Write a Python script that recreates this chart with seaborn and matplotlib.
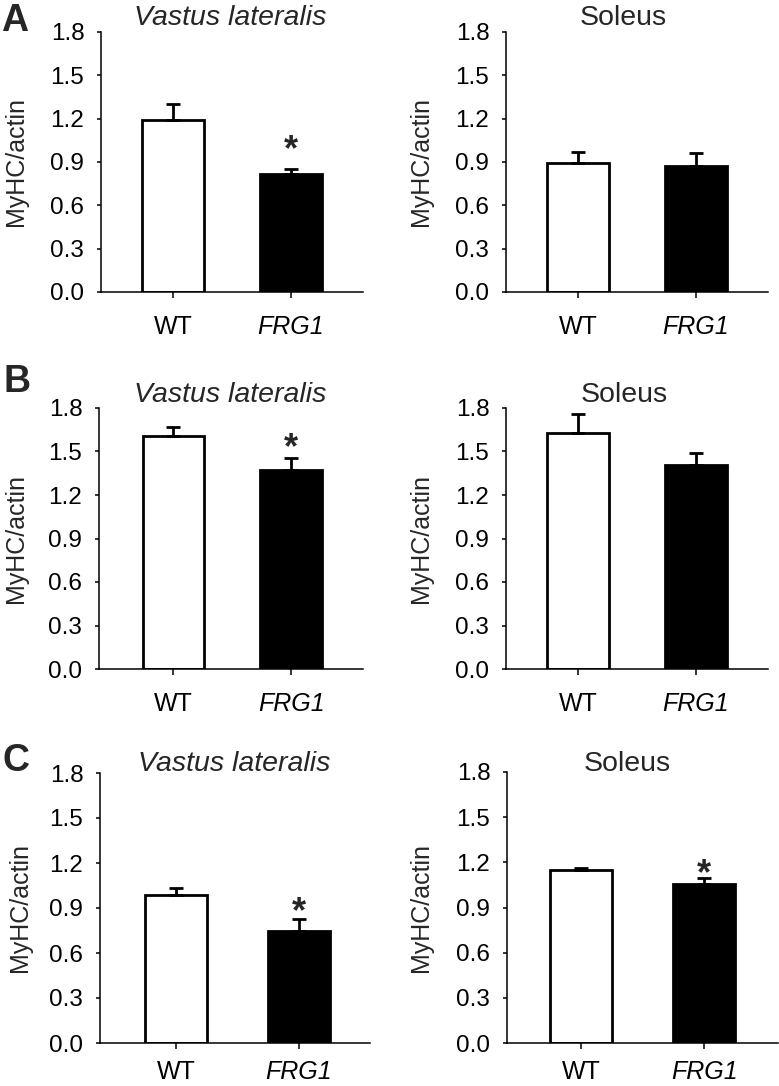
import matplotlib
matplotlib.use("Agg")
import matplotlib.pyplot as plt
import seaborn as sns
import pandas as pd

# ---------------- data ----------------
groups = ["WT", "FRG1"]
muscles = ["Vastus lateralis", "Soleus"]
panel_letters = ["A", "B", "C"]
y_ticks = [0.0, 0.3, 0.6, 0.9, 1.2, 1.5, 1.8]
y_label = "MyHC/actin"

a_vl_mean = [1.19, 0.82]
a_vl_sem = [0.11, 0.035]
a_sol_mean = [0.89, 0.87]
a_sol_sem = [0.08, 0.095]
b_vl_mean = [1.61, 1.375]
b_vl_sem = [0.06, 0.08]
b_sol_mean = [1.63, 1.41]
b_sol_sem = [0.13, 0.08]
c_vl_mean = [0.99, 0.75]
c_vl_sem = [0.045, 0.08]
c_sol_mean = [1.15, 1.055]
c_sol_sem = [0.015, 0.04]

significant_a_vl = [False, True]
significant_a_sol = [False, False]
significant_b_vl = [False, True]
significant_b_sol = [False, False]
significant_c_vl = [False, True]
significant_c_sol = [False, True]

# ---------------- style ----------------
sns.set_style("ticks")
plt.rcParams["font.family"] = ["Liberation Sans", "DejaVu Sans"]
plt.rcParams["axes.edgecolor"] = "black"
plt.rcParams["xtick.color"] = "black"
plt.rcParams["ytick.color"] = "black"

W, H = 779, 1086
fig = plt.figure(figsize=(W / 100, H / 100), dpi=100)

layout = [
    dict(rect=(101, 363, 32, 292), xlim=(-0.61, 1.61), bw=0.52, ylx=-0.279, tx=230, ty=25, star=12.5, xpad=12),
    dict(rect=(506, 768, 32, 292), xlim=(-0.61, 1.61), bw=0.52, ylx=-0.279, tx=623, ty=25, star=12.5, xpad=12),
    dict(rect=(99, 363, 408, 669), xlim=(-0.63, 1.61), bw=0.52, ylx=-0.269, tx=230, ty=402, star=6.4, xpad=12),
    dict(rect=(506, 768, 408, 669), xlim=(-0.61, 1.61), bw=0.52, ylx=-0.279, tx=624, ty=402, star=6.4, xpad=12),
    dict(rect=(100, 370, 773, 1043), xlim=(-0.62, 1.58), bw=0.50, ylx=-0.252, tx=234, ty=771, star=4.2, xpad=8),
    dict(rect=(507, 778, 772, 1043), xlim=(-0.60, 1.60), bw=0.50, ylx=-0.273, tx=627, ty=771, star=2.4, xpad=8),
]

panels = [
    (muscles[0], a_vl_mean, a_vl_sem, significant_a_vl),
    (muscles[1], a_sol_mean, a_sol_sem, significant_a_sol),
    (muscles[0], b_vl_mean, b_vl_sem, significant_b_vl),
    (muscles[1], b_sol_mean, b_sol_sem, significant_b_sol),
    (muscles[0], c_vl_mean, c_vl_sem, significant_c_vl),
    (muscles[1], c_sol_mean, c_sol_sem, significant_c_sol),
]

for (title, means, sems, sig), lay in zip(panels, layout):
    x0, x1, yt, yb = lay["rect"]
    ax = fig.add_axes([x0 / W, 1 - yb / H, (x1 - x0) / W, (yb - yt) / H])
    df = pd.DataFrame({"group": groups, "value": means})
    sns.barplot(data=df, x="group", y="value", hue="group", palette=["white", "black"],
                edgecolor="black", linewidth=2.0, width=lay["bw"], legend=False,
                errorbar=None, ax=ax, order=groups, hue_order=groups)
    ax.errorbar(x=list(range(len(groups))), y=means, yerr=[[0] * len(sems), sems],
                fmt="none", ecolor="black", elinewidth=2.0, capsize=5, capthick=2.0, zorder=5)
    for i, s in enumerate(sig):
        if s:
            ax.annotate("*", xy=(i, means[i] + sems[i]), xytext=(0, lay["star"]),
                        textcoords="offset points", ha="center", va="center",
                        fontsize=26, fontweight="bold")
    ax.set_ylim(0, 1.8)
    ax.set_xlim(*lay["xlim"])
    ax.set_yticks(y_ticks)
    ax.set_yticklabels([f"{t:.1f}" for t in y_ticks], fontsize=17.5)
    ax.set_xticks(range(len(groups)))
    ax.set_xticklabels(groups, fontsize=18)
    for lbl in ax.get_xticklabels():
        if lbl.get_text() == "FRG1":
            lbl.set_fontstyle("italic")
    ax.set_xlabel("")
    ax.set_ylabel(y_label, fontsize=18)
    ax.yaxis.set_label_coords(lay["ylx"], 0.5)
    ax.tick_params(axis="y", direction="out", length=3, width=1.1, pad=9)
    ax.tick_params(axis="x", direction="out", length=4.5, width=1.1, pad=lay["xpad"])
    for sp in ["top", "right"]:
        ax.spines[sp].set_visible(False)
    for sp in ["left", "bottom"]:
        ax.spines[sp].set_linewidth(1.1)
        ax.spines[sp].set_color("black")
    fig.text(lay["tx"] / W, 1 - lay["ty"] / H, title, ha="center", va="baseline",
             fontsize=20.5, fontstyle="italic" if title == "Vastus lateralis" else "normal")

letter_pos = [(1, 31), (4, 392), (3, 771)]
for letter, (lx, ly) in zip(panel_letters, letter_pos):
    fig.text(lx / W, 1 - ly / H, letter, ha="left", va="baseline", fontsize=27, fontweight="bold")

fig.savefig("out.png", dpi=100)
